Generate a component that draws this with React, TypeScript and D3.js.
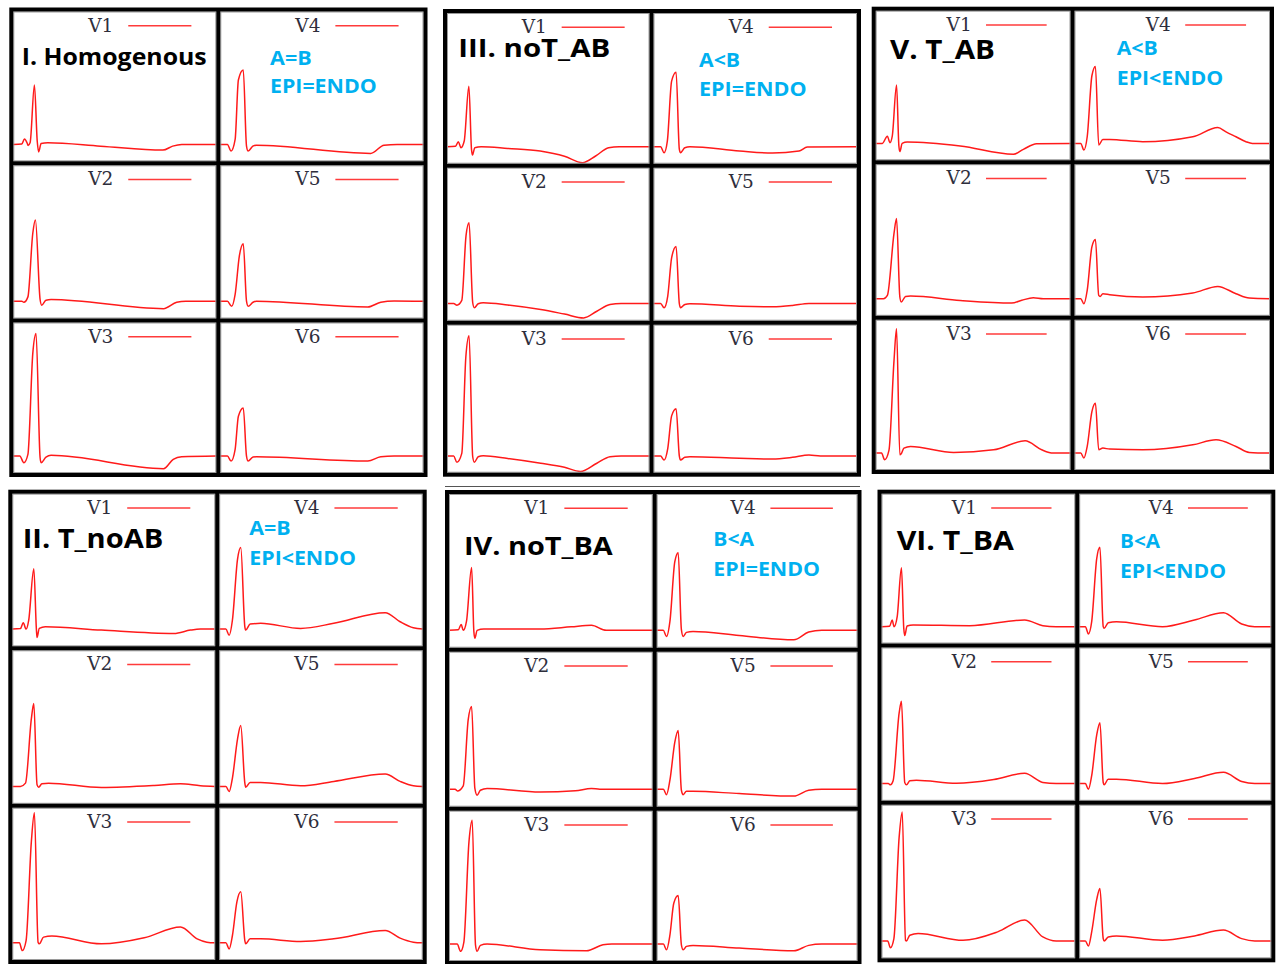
import React from 'react';
import * as d3 from 'd3';

type Pt = [number, number];

// ---------- data (x = % of cell width, y = amplitude above baseline) ----------
const leads = ['V1', 'V2', 'V3', 'V4', 'V5', 'V6'];
const panelTitles = ['I. Homogenous', 'II. T_noAB', 'III. noT_AB', 'IV. noT_BA', 'V. T_AB', 'VI. T_BA'];
const conditionAB = ['A=B', 'A=B', 'A<B', 'B<A', 'A<B', 'B<A'];
const conditionEpi = ['EPI=ENDO', 'EPI<ENDO', 'EPI=ENDO', 'EPI=ENDO', 'EPI<ENDO', 'EPI<ENDO'];

const homogenous: Pt[][] = [
  [[0,0],[4.2,0.5],[5.5,5.5],[6.8,1.5],[7.3,-1],[8.3,2],[10.4,60],[11.8,3],[12.5,-7.5],[13.7,1],[17,1.7],[43,-1.7],[73.7,-5.7],[78.5,-1.7],[83,0],[100,0]],
  [[0,0],[4.2,0],[5.2,-1],[7.2,4.3],[9.6,67],[10.9,80],[13.2,1.7],[14,-4],[16.1,1],[18.6,1.7],[74,-7.3],[80.5,-1],[85,0],[100,0]],
  [[0,0],[3.2,0],[5.2,-6.7],[7.2,1.7],[9.6,103],[11.2,123],[13.2,-1.7],[13.7,-6.7],[16.1,-1],[18.6,0.7],[74,-12.7],[78.8,-3.3],[82.9,-0.7],[100,0]],
  [[0,0],[3.5,0],[5.3,-6.7],[7.3,5],[8.9,65],[11.3,75],[12.9,-1.7],[13.7,-6.7],[16,-1.7],[17.7,-0.7],[74,-9],[80.6,-0.7],[87,0],[100,0]],
  [[0,0],[3.5,0],[5.6,-5],[7.3,6.7],[9.4,45],[11.3,56.7],[12.9,0],[13.7,-5],[16.1,-1],[17.7,0],[72.6,-5.7],[79,-1],[85.5,0.3],[100,0]],
  [[0,0],[3.5,0],[5.3,-5],[7.3,6.7],[8.9,40],[11.3,48.3],[12.9,0],[13.7,-5],[16.1,-1],[17.7,-0.7],[72.6,-5],[79,-0.7],[85.5,0],[100,0]],
];

const tNoAB: Pt[][] = [
  [[0,0],[4,0.5],[5.4,6.3],[6.8,0],[8.1,9],[10.6,59.7],[11.9,-1],[12.2,-8.3],[13.3,0.7],[16.3,2.3],[43.9,-1],[79.7,-4.3],[87.8,-1],[92.7,0],[100,0]],
  [[0,0],[4,0],[6.5,3.3],[9.4,66.7],[10.6,81.7],[12.2,1.7],[13,-0.7],[14.6,2.7],[17.9,3.3],[43.9,-1],[70,1],[82.9,2.7],[92.7,0.7],[100,0]],
  [[0,0],[3.5,0],[4.9,-7.7],[6.8,2.3],[9.4,100.7],[10.9,129],[12.7,0.7],[13.3,-1],[15.4,5.7],[19.5,6.7],[43.9,-1],[65,5],[82.9,15.7],[91.1,4],[95.9,0.7],[100,0]],
  [[0,0],[3.3,0],[4.9,-6],[6.5,9],[9,69],[10.6,80.7],[12.6,2.3],[13,-1],[15.2,5],[20.4,5.7],[40,0.7],[56.3,5.7],[81.6,16.3],[88.9,7.3],[95.4,1.3],[100,0]],
  [[0,0],[3.3,0],[4.9,-5],[6.5,8.3],[9,46.7],[10.6,60],[12.6,3.3],[13,-0.7],[15.2,4],[20.4,4],[40,0.7],[56.3,5],[81.6,12.3],[88.9,5],[95.4,0.7],[100,0]],
  [[0,0],[3.3,0],[4.9,-6],[6.5,7.3],[8.7,40.7],[10.6,50.7],[12.6,2.3],[13,-1],[15.2,4],[20.4,4],[40,1.3],[56.3,4],[81.6,12.3],[88.9,4.7],[95.4,0.7],[100,0]],
];

const noTAB: Pt[][] = [
  [[0,0],[4.2,0.5],[5.6,5],[6.9,-1],[8.5,5.7],[10.8,60.7],[12.1,-2.7],[12.6,-8.3],[13.7,-1],[16.9,0],[30,-1.7],[46,-4.3],[58,-9.5],[66.9,-16],[73.4,-9.3],[79.8,-1],[85,0],[100,0]],
  [[0,0],[3.3,0],[4.9,-1.7],[7.3,3],[9.4,67],[10.9,79.7],[12.7,0.7],[13.5,-4.3],[15.4,-0.3],[17.9,0.7],[30,-1.5],[46.3,-6],[58,-10.5],[67.5,-14.3],[74,-7.7],[80.5,-1],[86,0],[100,0]],
  [[0,0],[3.3,0],[4.9,-6.3],[7.3,2.7],[9.3,101],[10.9,122.7],[12.7,-0.7],[13.5,-6.3],[15.4,-0.7],[17.9,0.3],[30,-2.5],[46.3,-7.3],[58,-11.5],[65.9,-15.7],[74,-7.3],[80.5,-0.7],[86,0],[100,0]],
  [[0,0],[3.5,0],[5.2,-6],[6.8,5.7],[8.9,65.7],[11.1,74.7],[12.7,-2.7],[13.3,-6],[15.4,-1],[17.9,0],[42.3,-4.3],[58.5,-6.3],[71.5,-4.3],[75.6,-0.3],[100,0]],
  [[0,0],[3.5,0],[5.2,-4.3],[7,7.3],[8.9,45],[11.1,56.3],[12.7,-0.3],[13.3,-4.3],[15.4,-1],[17.9,-0.3],[42.3,-2.7],[58.5,-3.3],[68.3,-2],[76.4,0],[100,0]],
  [[0,0],[3.5,0],[5.2,-4],[7,7.7],[8.9,41],[11.1,48.3],[12.7,0],[13.3,-4],[15.4,-1.3],[17.9,-0.7],[42.3,-2.3],[58.5,-3],[68.3,-1.3],[76.4,1],[82,0],[100,0]],
];

const noTBA: Pt[][] = [
  [[0,0],[4.5,0.5],[6,5.7],[7,0],[8.6,9],[11.1,61.7],[12.2,-1],[12.7,-7.7],[13.8,0],[17.1,1.3],[44.7,1.3],[60,3.5],[69.9,5],[77.2,0],[100,0]],
  [[0,0],[3,0],[4.1,-1.7],[7,3.3],[9.4,67.3],[11.1,80.7],[12.7,0.7],[13.8,-6],[15.4,-1],[18.7,0.7],[44.7,-2.7],[62,-1.5],[69.9,0.7],[74,0],[100,0]],
  [[0,0],[4,0],[5.7,-7.3],[7.3,2],[9.8,102.7],[11.4,124.3],[13,-0.7],[13.8,-7.3],[15.4,-1.3],[18.7,0],[44.7,-5.7],[67.5,-6.7],[75.6,-0.7],[80,0],[100,0]],
  [[0,0],[3.3,0],[4.9,-6],[6.6,9],[9,67.3],[10.7,76.3],[12.3,0.7],[13.2,-6],[14.8,-2],[18.1,-1],[41.1,-5],[68.3,-9.3],[75.7,-1.7],[82.2,0],[100,0]],
  [[0,0],[3.3,0],[4.9,-5.3],[6.6,9],[9,45.7],[10.7,57.3],[12.3,-1],[13.2,-5.3],[14.8,-2],[18.1,-2],[41.1,-4.3],[68.3,-6.7],[75.7,-1],[82.2,0],[100,0]],
  [[0,0],[3.3,0],[4.9,-5.7],[6.6,9.3],[8.5,41],[10.7,48.7],[12.3,-0.7],[13.2,-5.7],[14.8,-2.3],[18.1,-1.3],[41.1,-4],[68.3,-6.7],[75.7,-1.3],[82.2,0],[100,0]],
];

const tAB: Pt[][] = [
  [[0,0],[3.4,0],[6,7.3],[7.3,0.7],[8.5,7.3],[10.7,59],[11.9,-2.7],[12.4,-8.3],[13.6,0],[16.2,1.3],[43.4,-2.7],[70.7,-11],[75.8,-6],[82.6,-0.3],[100,0]],
  [[0,0],[4,0],[6,3.3],[9.4,65],[10.7,80],[12.4,1.7],[13.1,-3.3],[15.3,2.3],[17.9,2.7],[43.4,-1.7],[69.8,-4.3],[75,-1.5],[80.9,1],[86,0],[100,0]],
  [[0,0],[3,0],[4.6,-6.7],[6.8,2.7],[9.4,93],[10.7,125],[12.4,-1.7],[13.1,-0.7],[14.5,5],[17.9,6.7],[40,0.7],[60.5,3.3],[76.7,12.3],[85.2,3.3],[91.1,0],[100,0]],
  [[0,0],[3.2,0],[4.8,-6.7],[6.5,6.7],[8.9,68.3],[10.7,77.7],[12.4,-1.7],[14.5,4],[18,4],[34.9,1.7],[60.5,6.7],[73.3,16],[77.5,11.7],[82.6,6.7],[87.7,1.7],[91,0],[100,0]],
  [[0,0],[3.2,0],[4.8,-5],[6.5,8.3],[8.9,51.7],[10.7,59],[12.4,3.3],[13.1,2.3],[14.5,5],[18,4],[34.9,1.7],[60.5,5.7],[73.3,12.3],[82.6,5],[89.4,0.7],[100,0]],
  [[0,0],[3.2,0],[4.8,-5],[6.5,6.7],[8.9,41.7],[10.7,50],[12.4,3.3],[14.5,5],[18,4],[34.9,3.3],[60.5,8.3],[72.4,13.3],[82.6,6.7],[89.4,0.7],[100,0]],
];

const tBA: Pt[][] = [
  [[0,0],[4.2,0.5],[5.5,6.7],[6.5,0],[8.1,10],[10.3,59.3],[11.5,-1.7],[12,-9],[13.2,0.7],[16.3,1.7],[45.5,1],[73.9,6.7],[83.3,1],[90.2,0],[100,0]],
  [[0,0],[3.5,0],[4.6,-1.3],[6,2.7],[9.1,69.3],[10.3,81],[12,1],[12.9,-1.3],[14.6,2.7],[18,3.3],[38.7,0.3],[58,4],[73.9,10],[83.3,1],[90.2,0],[100,0]],
  [[0,0],[3.2,0],[4.6,-6.7],[6.4,2.3],[9.1,102],[10.7,127],[12.4,0.7],[12.9,0],[14.6,5.7],[18.9,7.3],[42.1,0.7],[60,9],[73.9,20.7],[83.3,4],[90.2,0],[100,0]],
  [[0,0],[3.2,0],[4.8,-7.3],[6.5,5],[9.1,68.3],[10.8,80],[12.5,0],[13,-1.7],[15.1,4],[19.4,5],[43.4,0],[60,6.7],[75.1,14],[84.6,2.7],[91.4,0],[100,0]],
  [[0,0],[3.2,0],[4.8,-5.7],[6.5,7.7],[9.1,47.7],[10.8,60],[12.5,1],[13,-1.3],[15.1,4.3],[19.4,4.3],[43.4,0],[60,5],[75.1,11],[84.6,2],[91.4,0],[100,0]],
  [[0,0],[3.2,0],[4.8,-5],[6.5,9],[9.1,40.7],[10.8,51.7],[12.5,2.3],[13,0],[15.1,4],[19.4,5],[43.4,0.7],[60,5],[75.1,10.7],[84.6,2.3],[91.4,0],[100,0]],
];

const panelTraces = [homogenous, tNoAB, noTAB, noTBA, tAB, tBA];

// ---------- layout ----------
type Layout = {
  xs: number[]; ys: number[];
  title: { x: number; y: number; len: number; fs: number };
  cond: { x: number; y1: number; y2: number; len1: number; len2: number };
};
const layouts: Layout[] = [
  { xs: [11.3, 218.3, 425.5], ys: [9.5, 163.3, 320.5, 475], title: { x: 21.7, y: 64.7, len: 185, fs: 24 }, cond: { x: 270, y1: 65, y2: 93.3, len1: 41.7, len2: 106.7 } },
  { xs: [10.3, 217.2, 424.7], ys: [491.7, 648.3, 805.8, 962], title: { x: 22.7, y: 548.3, len: 140.6, fs: 27 }, cond: { x: 249.3, y1: 535, y2: 565, len1: 41.4, len2: 106.7 } },
  { xs: [445, 651.5, 859], ys: [11, 165.7, 322.7, 474.7], title: { x: 458.3, y: 56.5, len: 152, fs: 24.5 }, cond: { x: 699, y1: 66.7, y2: 96, len1: 41, len2: 107.7 } },
  { xs: [447, 654.7, 859.5], ys: [492, 649.7, 808.7, 963], title: { x: 464, y: 555, len: 148.7, fs: 25.5 }, cond: { x: 713.3, y1: 546, y2: 576, len1: 40.7, len2: 106.7 } },
  { xs: [873.7, 1072.5, 1272], ys: [8.7, 162.2, 317.8, 472], title: { x: 890, y: 59.3, len: 105, fs: 26.5 }, cond: { x: 1116.7, y1: 55, y2: 85, len1: 41, len2: 106.6 } },
  { xs: [879.5, 1077.2, 1273.3], ys: [491.7, 645.5, 802.8, 960.3], title: { x: 896.7, y: 550, len: 117.3, fs: 27 }, cond: { x: 1120, y1: 548.3, y2: 578.3, len1: 40, len2: 106 } },
];

const TRACE = '#ff1a1a';
const BLUE = '#00b0f0';

function Cell({ x0, x1, y0, y1, lead, pts }: { x0: number; x1: number; y0: number; y1: number; lead: string; pts: Pt[] }) {
  const xs = d3.scaleLinear().domain([0, 100]).range([x0 + 2, x1 - 2]);
  const ys = d3.scaleLinear().domain([-19, 136]).range([y1, y0]);
  const line = d3.line<Pt>().x(d => xs(d[0])).y(d => ys(d[1])).curve(d3.curveMonotoneX);
  const lx = d3.scaleLinear().domain([0, 1]).range([x0, x1]);
  return (
    <g>
      <path d={line(pts) || ''} fill="none" stroke={TRACE} strokeWidth={1.5} strokeLinejoin="round" />
      <text x={lx(0.493)} y={y0 + 22} textAnchor="end" fontFamily="DejaVu Serif" fontSize={18.5} fill="#2e2e3c">{lead}</text>
      <line x1={lx(0.565)} x2={lx(0.87)} y1={y0 + 16.3} y2={y0 + 16.3} stroke="#ff3b3b" strokeWidth={1.5} />
    </g>
  );
}

function Panel({ idx }: { idx: number }) {
  const L = layouts[idx];
  const traces = panelTraces[idx];
  const cells: React.ReactNode[] = [];
  for (let c = 0; c < 2; c++) {
    for (let r = 0; r < 3; r++) {
      const k = c * 3 + r;
      cells.push(
        <Cell key={k} x0={L.xs[c]} x1={L.xs[c + 1]} y0={L.ys[r]} y1={L.ys[r + 1]} lead={leads[k]} pts={traces[k]} />
      );
    }
  }
  const gray: React.ReactNode[] = [];
  for (let c = 0; c < 2; c++) {
    for (let r = 0; r < 3; r++) {
      gray.push(
        <rect key={`g${c}${r}`} x={L.xs[c] + 2.5} y={L.ys[r] + 2.5} width={L.xs[c + 1] - L.xs[c] - 5} height={L.ys[r + 1] - L.ys[r] - 5} fill="none" stroke="#9a9a9a" strokeWidth={1} />
      );
    }
  }
  return (
    <g>
      {cells}
      {gray}
      <g stroke="#000" strokeWidth={4} fill="none">
        <rect x={L.xs[0]} y={L.ys[0]} width={L.xs[2] - L.xs[0]} height={L.ys[3] - L.ys[0]} />
        <line x1={L.xs[1]} x2={L.xs[1]} y1={L.ys[0]} y2={L.ys[3]} />
        <line x1={L.xs[0]} x2={L.xs[2]} y1={L.ys[1]} y2={L.ys[1]} />
        <line x1={L.xs[0]} x2={L.xs[2]} y1={L.ys[2]} y2={L.ys[2]} />
      </g>
      <text x={L.title.x} y={L.title.y} fontFamily="Open Sans" fontWeight={700} fontSize={L.title.fs} fill="#000" textLength={L.title.len} lengthAdjust="spacingAndGlyphs">{panelTitles[idx]}</text>
      <text x={L.cond.x} y={L.cond.y1} fontFamily="Open Sans" fontWeight={700} fontSize={20} fill={BLUE} textLength={L.cond.len1} lengthAdjust="spacingAndGlyphs">{conditionAB[idx]}</text>
      <text x={L.cond.x} y={L.cond.y2} fontFamily="Open Sans" fontWeight={700} fontSize={20} fill={BLUE} textLength={L.cond.len2} lengthAdjust="spacingAndGlyphs">{conditionEpi[idx]}</text>
    </g>
  );
}

export default function App() {
  return (
    <svg width={1276} height={964} style={{ position: 'absolute', left: 0, top: 0, background: '#fff' }}>
      <rect x={0} y={0} width={1276} height={964} fill="#fff" />
      <line x1={445} x2={860} y1={486.5} y2={486.5} stroke="#555" strokeWidth={1.2} />
      {panelTitles.map((_, i) => <Panel key={i} idx={i} />)}
    </svg>
  );
}
